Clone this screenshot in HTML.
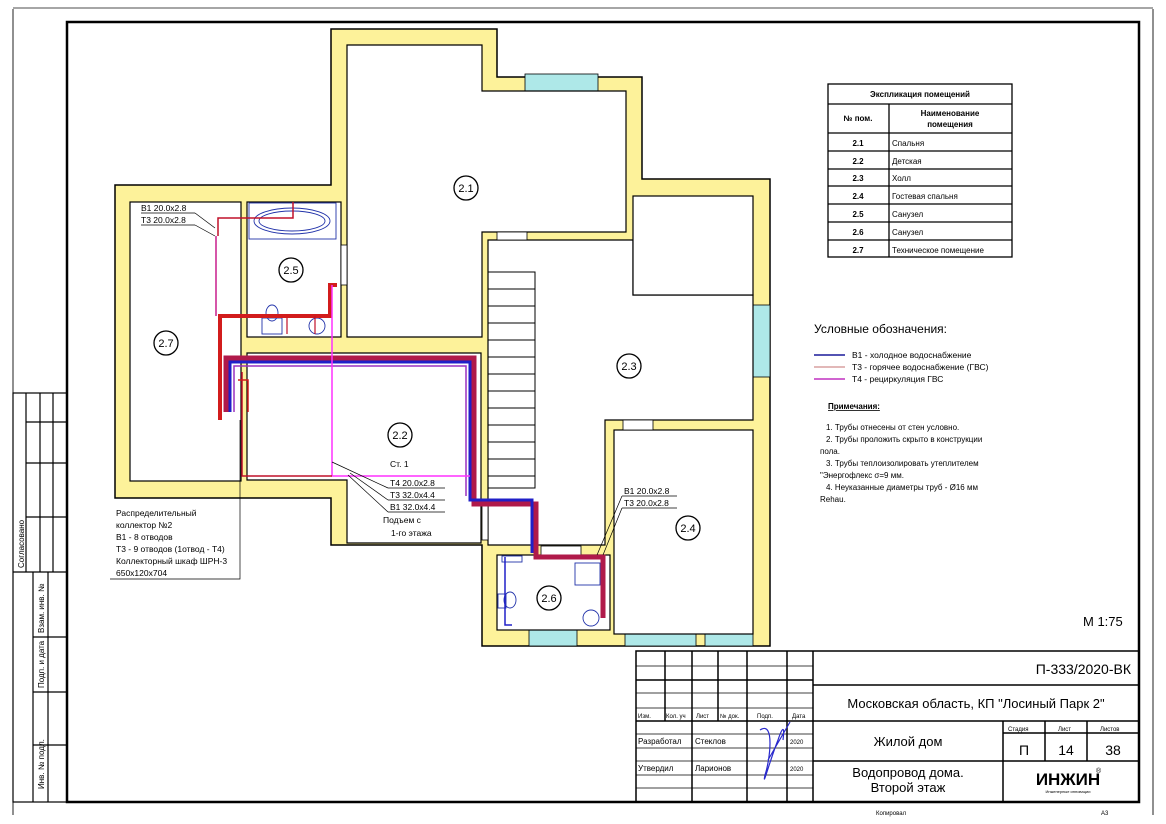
<!DOCTYPE html>
<html><head><meta charset="utf-8"><style>
html,body{margin:0;padding:0;background:#fff}
svg{display:block}
text{font-family:"Liberation Sans",sans-serif;fill:#000}
</style></head><body>
<svg width="1166" height="824" viewBox="0 0 1166 824" xmlns="http://www.w3.org/2000/svg">
<line x1="13" y1="8" x2="1153" y2="8" stroke="#888" stroke-width="1.5"/>
<line x1="13" y1="9" x2="13" y2="815" stroke="#222" stroke-width="1"/>
<line x1="1153" y1="9" x2="1153" y2="815" stroke="#222" stroke-width="1"/>
<rect x="67" y="22" width="1072" height="780" fill="none" stroke="#000" stroke-width="2.5"/>

<g stroke="#000" stroke-width="1.2" fill="none">
<rect x="13" y="393" width="54" height="409"/>
<line x1="26" y1="393" x2="26" y2="572"/>
<line x1="40" y1="393" x2="40" y2="572"/>
<line x1="53" y1="393" x2="53" y2="572"/>
<line x1="26" y1="422" x2="67" y2="422"/>
<line x1="26" y1="463" x2="67" y2="463"/>
<line x1="26" y1="517" x2="67" y2="517"/>
<line x1="13" y1="572" x2="67" y2="572"/>
<line x1="33" y1="572" x2="33" y2="802"/>
<line x1="48" y1="572" x2="48" y2="802"/>
<line x1="33" y1="637" x2="67" y2="637"/>
<line x1="33" y1="692" x2="67" y2="692"/>
<line x1="33" y1="745" x2="67" y2="745"/>
</g>
<text transform="translate(24,568) rotate(-90)" font-size="8">Согласовано</text>
<text transform="translate(44,633) rotate(-90)" font-size="8">Взам. инв. №</text>
<text transform="translate(44,688) rotate(-90)" font-size="8">Подп. и дата</text>
<text transform="translate(44,789) rotate(-90)" font-size="8">Инв. № подл.</text>

<polygon points="331,29 497,29 497,77 642,77 642,179 770,179 770,646 482,646 482,545 331,545 331,498 115,498 115,185 331,185" fill="#fdf29a" stroke="#000" stroke-width="1.5"/>
<g fill="#aee8e8" stroke="#000" stroke-width="0.8">
<rect x="525" y="74" width="73" height="17"/>
<rect x="753" y="305" width="17" height="72"/>
<rect x="529" y="630" width="48" height="16"/>
<rect x="625" y="630" width="71" height="16"/>
<rect x="705" y="630" width="48" height="16"/>
</g>
<g fill="#fff" stroke="#000" stroke-width="1.2">
<polygon points="347,45 482,45 482,91 626,91 626,232 482,232 482,337 347,337"/>
<rect x="130" y="202" width="111" height="279"/>
<rect x="247" y="202" width="94" height="135"/>
<polygon points="247,353 481,353 481,543 347,543 347,480 247,480"/>
<polygon points="488,240 633,240 633,295 753,295 753,420 605,420 605,545 488,545"/>
<rect x="633" y="196" width="120" height="99"/>
<rect x="614" y="430" width="139" height="204"/>
<rect x="497" y="555" width="113" height="75"/>
</g>
<g fill="#fff" stroke="#000" stroke-width="0.8">
<rect x="497" y="232" width="30" height="8"/>
<rect x="341" y="245" width="6" height="40"/>
<rect x="623" y="420" width="30" height="10"/>
<rect x="541" y="546" width="40" height="9"/>
<rect x="482" y="505" width="6" height="35"/>
</g>
<g stroke="#000" stroke-width="1" fill="none">
<rect x="488" y="272" width="47" height="216"/>
<line x1="488" y1="289" x2="535" y2="289"/><line x1="488" y1="306" x2="535" y2="306"/>
<line x1="488" y1="323" x2="535" y2="323"/><line x1="488" y1="340" x2="535" y2="340"/>
<line x1="488" y1="357" x2="535" y2="357"/><line x1="488" y1="374" x2="535" y2="374"/>
<line x1="488" y1="391" x2="535" y2="391"/><line x1="488" y1="408" x2="535" y2="408"/>
<line x1="488" y1="425" x2="535" y2="425"/><line x1="488" y1="442" x2="535" y2="442"/>
<line x1="488" y1="459" x2="535" y2="459"/><line x1="488" y1="476" x2="535" y2="476"/>
</g>
<g fill="none" stroke="#2233aa" stroke-width="0.9">
<rect x="249" y="203" width="87" height="36"/>
<ellipse cx="292" cy="221" rx="38" ry="13"/>
<ellipse cx="292" cy="221" rx="33" ry="10"/>
<ellipse cx="272" cy="313" rx="6" ry="8"/>
<rect x="262" y="318" width="20" height="16"/>
<circle cx="317" cy="326" r="8"/>
<ellipse cx="510" cy="600" rx="6" ry="8"/>
<rect x="498" y="594" width="8" height="14"/>
<circle cx="591" cy="618" r="8"/>
<rect x="575" y="563" width="25" height="22"/>
<rect x="502" y="556" width="20" height="6"/>
</g>
<g fill="none" stroke-linejoin="miter">
<path d="M220,420 L220,316 L330,316 L330,285 L337,285" stroke="#d21c1c" stroke-width="4"/>
<path d="M216,236 L216,316" stroke="#c81e8c" stroke-width="1.5"/>
<path d="M218,236 L218,218 L293,218 L293,202" stroke="#c0102a" stroke-width="1.5"/>
<path d="M287,318 L287,334 M315,316 L315,334" stroke="#c0102a" stroke-width="1.2"/>
<path d="M226,412 L226,358 L474,358 L474,504 L536,504 L536,557 L603,557 L603,618" stroke="#b01a4a" stroke-width="5"/>
<path d="M230,412 L230,362 L470,362 L470,500 L532,500 L532,553" stroke="#2020c8" stroke-width="3"/>
<path d="M234,412 L234,366 L466,366 L466,496" stroke="#9a30c0" stroke-width="1.5"/>
<path d="M332,285 L332,476 L470,476" stroke="#ff30ff" stroke-width="1.5"/>
<path d="M242,372 L242,476 L332,476" stroke="#c0102a" stroke-width="1.5"/>
<path d="M238,380 L248,380 L248,412" stroke="#d21c1c" stroke-width="1.5"/>
<path d="M505,557 L505,625 L512,625" stroke="#2020c8" stroke-width="1.5"/>
</g>
<g fill="#fff" stroke="#000" stroke-width="1.3">
<ellipse cx="466" cy="188" rx="12" ry="12"/>
<ellipse cx="291" cy="270" rx="12" ry="12"/>
<ellipse cx="166" cy="343" rx="12" ry="12"/>
<ellipse cx="629" cy="366" rx="12" ry="12"/>
<ellipse cx="400" cy="435" rx="12" ry="12"/>
<ellipse cx="688" cy="528" rx="12" ry="12"/>
<ellipse cx="549" cy="598" rx="12" ry="12"/>
</g>
<g font-size="11" text-anchor="middle">
<text x="466" y="192">2.1</text><text x="291" y="274">2.5</text><text x="166" y="347">2.7</text>
<text x="629" y="370">2.3</text><text x="400" y="439">2.2</text><text x="688" y="532">2.4</text>
<text x="549" y="602">2.6</text>
</g>
<g font-size="8.5">
<text x="141" y="211">В1 20.0x2.8</text><text x="141" y="223">Т3 20.0x2.8</text>
<text x="390" y="467">Ст. 1</text>
<text x="390" y="486">Т4 20.0x2.8</text><text x="390" y="498">Т3 32.0x4.4</text><text x="390" y="510">В1 32.0x4.4</text>
<text x="383" y="523">Подъем с</text><text x="391" y="536">1-го этажа</text>
<text x="624" y="494">В1 20.0x2.8</text><text x="624" y="506">Т3 20.0x2.8</text>
<text x="116" y="516">Распределительный</text><text x="116" y="528">коллектор №2</text>
<text x="116" y="540">В1 - 8 отводов</text><text x="116" y="552">Т3 - 9 отводов (1отвод - Т4)</text>
<text x="116" y="564">Коллекторный шкаф ШРН-3</text><text x="116" y="576">650x120x704</text>
</g>
<g stroke="#000" stroke-width="0.7" fill="none">
<line x1="141" y1="213" x2="195" y2="213"/><line x1="141" y1="225" x2="195" y2="225"/>
<line x1="195" y1="213" x2="215" y2="228"/><line x1="195" y1="225" x2="215" y2="236"/>
<line x1="388" y1="488" x2="445" y2="488"/><line x1="388" y1="500" x2="445" y2="500"/><line x1="388" y1="512" x2="445" y2="512"/>
<line x1="332" y1="462" x2="388" y2="488"/><line x1="350" y1="473" x2="388" y2="500"/><line x1="348" y1="475" x2="388" y2="512"/>
<line x1="622" y1="496" x2="677" y2="496"/><line x1="622" y1="508" x2="677" y2="508"/>
<line x1="622" y1="496" x2="597" y2="555"/><line x1="622" y1="508" x2="603" y2="555"/>
<polyline points="240,420 240,579 110,579"/>
</g>
<g stroke="#000" stroke-width="1.3" fill="none">
<rect x="828" y="84" width="184" height="173"/>
<line x1="828" y1="104" x2="1012" y2="104"/><line x1="828" y1="133" x2="1012" y2="133"/>
<line x1="828" y1="151" x2="1012" y2="151"/><line x1="828" y1="169" x2="1012" y2="169"/>
<line x1="828" y1="186" x2="1012" y2="186"/><line x1="828" y1="204" x2="1012" y2="204"/>
<line x1="828" y1="222" x2="1012" y2="222"/><line x1="828" y1="240" x2="1012" y2="240"/>
<line x1="889" y1="104" x2="889" y2="257"/>
</g>
<g font-size="8" font-weight="bold">
<text x="920" y="97" text-anchor="middle">Экспликация помещений</text>
<text x="858" y="121" text-anchor="middle">№ пом.</text>
<text x="950" y="116" text-anchor="middle">Наименование</text>
<text x="950" y="127" text-anchor="middle">помещения</text>
<g text-anchor="middle"><text x="858" y="146">2.1</text><text x="858" y="164">2.2</text><text x="858" y="181">2.3</text><text x="858" y="199">2.4</text><text x="858" y="217">2.5</text><text x="858" y="235">2.6</text><text x="858" y="253">2.7</text></g>
</g>
<g font-size="8">
<text x="892" y="146">Спальня</text><text x="892" y="164">Детская</text><text x="892" y="181">Холл</text><text x="892" y="199">Гостевая спальня</text><text x="892" y="217">Санузел</text><text x="892" y="235">Санузел</text><text x="892" y="253">Техническое помещение</text>
</g>
<text x="814" y="333" font-size="12">Условные обозначения:</text>
<line x1="814" y1="355" x2="845" y2="355" stroke="#1a1a9a" stroke-width="1.5"/>
<line x1="814" y1="367" x2="845" y2="367" stroke="#d8a0a0" stroke-width="1.5"/>
<line x1="814" y1="379" x2="845" y2="379" stroke="#c030c0" stroke-width="1.5"/>
<g font-size="8.5">
<text x="852" y="358">В1 - холодное водоснабжение</text>
<text x="852" y="370">Т3 - горячее водоснабжение (ГВС)</text>
<text x="852" y="382">Т4 - рециркуляция ГВС</text>
</g>
<g font-size="8">
<text x="828" y="409" font-weight="bold" text-decoration="underline">Примечания:</text>
<text x="826" y="430">1.    Трубы отнесены от стен условно.</text>
<text x="826" y="442">2.    Трубы проложить скрыто в конструкции</text>
<text x="820" y="454">пола.</text>
<text x="826" y="466">3.    Трубы теплоизолировать утеплителем</text>
<text x="820" y="478">"Энергофлекс σ=9 мм.</text>
<text x="826" y="490">4.    Неуказанные диаметры труб - Ø16 мм</text>
<text x="820" y="502">Rehau.</text>
</g>
<text x="1083" y="626" font-size="13">М 1:75</text>

<g stroke="#000" stroke-width="1.5" fill="none">
<rect x="636" y="651" width="503" height="151"/>
<line x1="665" y1="651" x2="665" y2="721"/><line x1="692" y1="651" x2="692" y2="802"/>
<line x1="718" y1="651" x2="718" y2="721"/><line x1="747" y1="651" x2="747" y2="802"/>
<line x1="787" y1="651" x2="787" y2="802"/><line x1="813" y1="651" x2="813" y2="802"/>
<line x1="636" y1="666" x2="813" y2="666" stroke-width="0.8"/><line x1="636" y1="680" x2="813" y2="680"/>
<line x1="636" y1="693" x2="813" y2="693" stroke-width="0.8"/><line x1="636" y1="708" x2="813" y2="708" stroke-width="0.8"/>
<line x1="636" y1="721" x2="813" y2="721"/><line x1="636" y1="734" x2="813" y2="734" stroke-width="0.8"/>
<line x1="636" y1="748" x2="813" y2="748" stroke-width="0.8"/><line x1="636" y1="761" x2="813" y2="761" stroke-width="0.8"/>
<line x1="636" y1="775" x2="813" y2="775" stroke-width="0.8"/><line x1="636" y1="788" x2="813" y2="788" stroke-width="0.8"/>
<line x1="813" y1="685" x2="1139" y2="685"/><line x1="813" y1="721" x2="1139" y2="721"/>
<line x1="813" y1="761" x2="1139" y2="761"/>
<line x1="1003" y1="721" x2="1003" y2="802"/><line x1="1045" y1="721" x2="1045" y2="761"/><line x1="1087" y1="721" x2="1087" y2="761"/>
<line x1="1003" y1="733" x2="1139" y2="733"/>
</g>
<g font-size="6">
<text x="638" y="718">Изм.</text><text x="666" y="718">Кол. уч</text><text x="696" y="718">Лист</text><text x="720" y="718">№ док.</text><text x="757" y="718">Подп.</text><text x="792" y="718">Дата</text>
<text x="1008" y="731">Стадия</text><text x="1058" y="731">Лист</text><text x="1100" y="731">Листов</text>
<text x="876" y="815">Копировал</text><text x="1101" y="815">А3</text>
</g>
<g font-size="8">
<text x="638" y="744">Разработал</text><text x="695" y="744">Стеклов</text><text x="790" y="744" font-size="6">2020</text>
<text x="638" y="771">Утвердил</text><text x="695" y="771">Ларионов</text><text x="790" y="771" font-size="6">2020</text>
</g>
<path d="M760,730 C775,720 770,760 765,775 C762,790 770,760 778,740 C782,728 785,724 783,740 M768,760 L790,722" fill="none" stroke="#2a2acc" stroke-width="1.2"/>
<text x="1131" y="674" font-size="14" text-anchor="end">П-333/2020-ВК</text>
<g font-size="13" text-anchor="middle">
<text x="976" y="708">Московская область, КП "Лосиный Парк 2"</text>
<text x="908" y="746">Жилой дом</text>
<text x="908" y="777">Водопровод дома.</text>
<text x="908" y="792">Второй этаж</text>
<text x="1024" y="755" font-size="14">П</text><text x="1066" y="755" font-size="14">14</text><text x="1113" y="755" font-size="14">38</text>
</g>
<text x="1068" y="785" font-size="17" font-weight="bold" text-anchor="middle" fill="#111">ИНЖИН</text>
<text x="1096" y="773" font-size="7">®</text>
<text x="1068" y="793" font-size="4" text-anchor="middle" fill="#3a9a3a">Инженерные инновации</text>
</svg>
</body></html>
